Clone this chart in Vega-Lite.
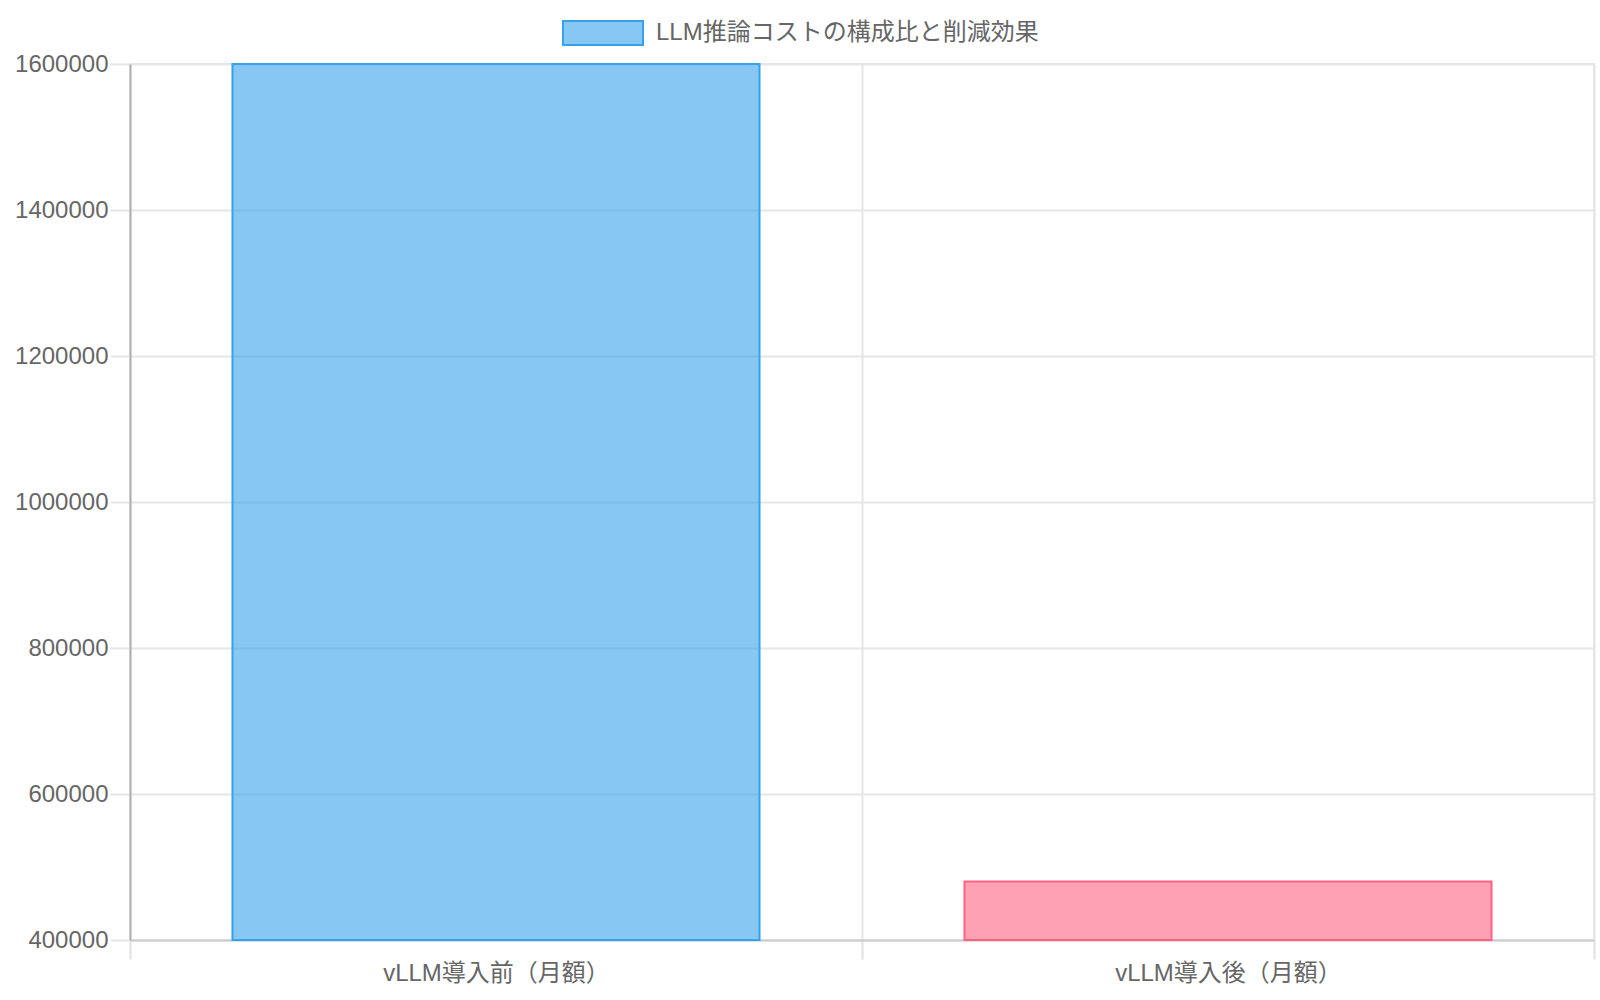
{
  "$schema": "https://vega.github.io/schema/vega-lite/v6.json",
  "width": 1464,
  "height": 876,
  "autosize": {"type": "none"},
  "padding": {"left": 130, "top": 64, "right": 6, "bottom": 60},
  "background": "white",
  "config": {
    "view": {"stroke": "#e6e6e6", "strokeWidth": 2},
    "font": "Liberation Sans, Noto Sans CJK JP"
  },
  "data": {
    "values": [
      {"category": "vLLM導入前（月額）", "cost": 1600000, "series": "LLM推論コストの構成比と削減効果"},
      {"category": "vLLM導入後（月額）", "cost": 480000, "series": "LLM推論コストの構成比と削減効果"}
    ]
  },
  "encoding": {
    "x": {
      "field": "category",
      "type": "nominal",
      "sort": null,
      "scale": {"paddingInner": 0, "paddingOuter": 0},
      "axis": {
        "title": null,
        "labelAngle": 0,
        "labelLimit": 0,
        "tickBand": "extent",
        "grid": true,
        "gridColor": "#e6e6e6",
        "gridWidth": 2,
        "tickColor": "#e0e0e0",
        "tickWidth": 2,
        "tickSize": 19,
        "domainColor": "#cccccc",
        "domainWidth": 2,
        "labelFontSize": 24,
        "labelColor": "#666666",
        "labelPadding": 2,
        "labelFont": "Liberation Sans, Noto Sans CJK JP"
      }
    },
    "y": {
      "field": "cost",
      "type": "quantitative",
      "scale": {"domain": [400000, 1600000], "zero": false, "nice": false},
      "axis": {
        "title": null,
        "values": [400000, 600000, 800000, 1000000, 1200000, 1400000, 1600000],
        "format": "d",
        "labelLimit": 0,
        "grid": true,
        "gridColor": "#e6e6e6",
        "gridWidth": 2,
        "tickColor": "#e6e6e6",
        "tickWidth": 2,
        "tickSize": 20,
        "labelPadding": 2,
        "domainColor": "#b0b0b0",
        "domainWidth": 2,
        "labelFontSize": 24,
        "labelColor": "#666666",
        "labelFont": "Liberation Sans, Noto Sans CJK JP"
      }
    }
  },
  "layer": [
    {
      "mark": {"type": "bar", "width": {"band": 0.72}, "fillOpacity": 0.6, "strokeWidth": 2},
      "encoding": {
        "y2": {"datum": 400000},
        "fill": {
          "field": "category",
          "type": "nominal",
          "scale": {"domain": ["vLLM導入前（月額）", "vLLM導入後（月額）"], "range": ["#36a2eb", "#ff6384"]},
          "legend": null
        },
        "stroke": {
          "field": "category",
          "type": "nominal",
          "scale": {"domain": ["vLLM導入前（月額）", "vLLM導入後（月額）"], "range": ["#36a2eb", "#ff6384"]},
          "legend": null
        }
      }
    },
    {
      "mark": {"type": "point", "filled": true, "opacity": 0},
      "encoding": {
        "color": {
          "field": "series",
          "type": "nominal",
          "scale": {"range": ["#86c7f3"]},
          "legend": {
            "title": null,
            "orient": "none",
            "legendX": 432,
            "legendY": -72,
            "padding": 0,
            "symbolType": "M-1,-0.3H1V0.3H-1Z",
            "symbolSize": 6400,
            "symbolFillColor": "#86c7f3",
            "symbolStrokeColor": "#36a2eb",
            "symbolStrokeWidth": 2,
            "symbolOpacity": 1,
            "labelFontSize": 24,
            "labelColor": "#666666",
            "labelOffset": 12,
            "labelLimit": 0,
            "labelFont": "Liberation Sans, Noto Sans CJK JP"
          }
        }
      }
    }
  ]
}
